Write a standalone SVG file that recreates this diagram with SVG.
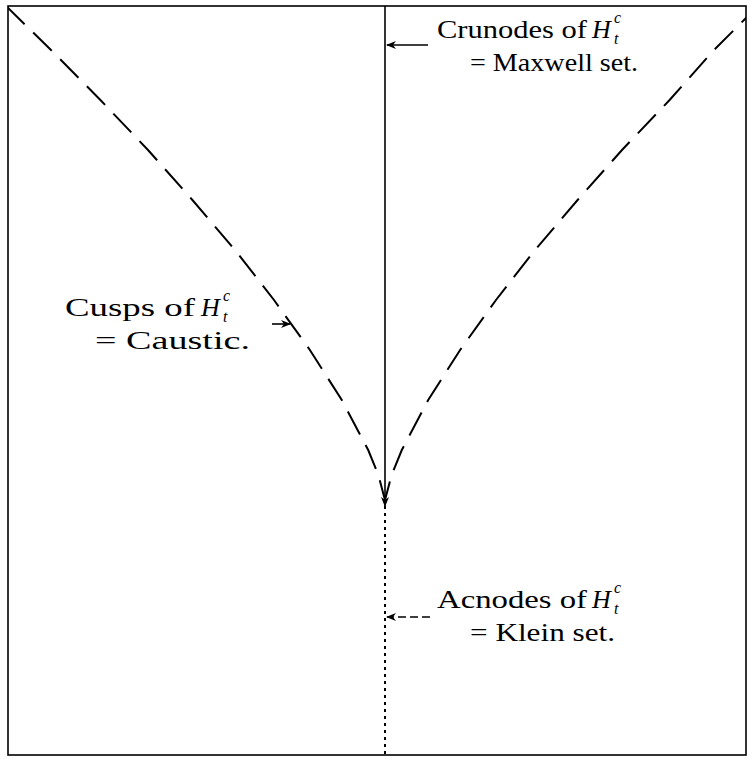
<svg xmlns="http://www.w3.org/2000/svg" width="754" height="763" viewBox="0 0 754 763">
<style>
.t{font-family:"Liberation Serif","Times New Roman",serif;font-size:26px;fill:#000}
.i{font-style:italic}
.s{font-family:"Liberation Serif","Times New Roman",serif;font-size:16px;font-style:italic;fill:#000}
.curve{fill:none;stroke:#000;stroke-width:2;stroke-dasharray:26 12}
.ln{fill:none;stroke:#000;stroke-width:1.6}
</style>
<defs>
<marker id="ah" viewBox="0 0 10 8" refX="9" refY="4" markerWidth="10" markerHeight="8" markerUnits="userSpaceOnUse" orient="auto">
<path d="M0,0 L10,4 L0,8 L3,4 Z" fill="#000"/>
</marker>
<clipPath id="fr"><rect x="8" y="6" width="738" height="749"/></clipPath>
</defs>
<rect x="8" y="6" width="738" height="749" fill="#fff" stroke="#000" stroke-width="1.6"/>
<g id="connectors">
<g clip-path="url(#fr)">
<path id="caustic-left" class="curve" d="M6,6 L51,50 L100.4,100 L148,150 L192.4,200 L235,250 L274,300 L309.9,350 L341.8,400 L368.2,450 L378.4,475 L385,500"/>
<path id="caustic-right" class="curve" d="M760,4 L714,50 L669.6,100 L622,150 L577.6,200 L535,250 L496,300 L460.1,350 L428.2,400 L401.8,450 L391.6,475 L385,500"/>
</g>
<line id="maxwell" class="ln" x1="385" y1="6" x2="385" y2="506" marker-end="url(#ah)"/>
<line id="klein" x1="385" y1="506" x2="385" y2="755" stroke="#000" stroke-width="2" stroke-dasharray="3 4"/>
<line class="ln" x1="428" y1="45" x2="387" y2="45" marker-end="url(#ah)"/>
<line class="ln" x1="272" y1="324" x2="290" y2="324" marker-end="url(#ah)"/>
<line class="ln" x1="430" y1="617" x2="387" y2="617" stroke-dasharray="8 4" marker-end="url(#ah)"/>
</g>
<g id="label-crunodes">
<text class="t" x="437" y="38" textLength="150" lengthAdjust="spacingAndGlyphs">Crunodes of</text>
<text class="t i" x="592" y="38">H</text>
<text class="s" x="614" y="44">t</text>
<text class="s" x="614" y="23">c</text>
<text class="t" x="470" y="71" textLength="168" lengthAdjust="spacingAndGlyphs">= Maxwell set.</text>
</g>
<g id="label-cusps">
<text class="t" x="65" y="316" textLength="130" lengthAdjust="spacingAndGlyphs">Cusps of</text>
<text class="t i" x="201" y="316">H</text>
<text class="s" x="223" y="322">t</text>
<text class="s" x="223" y="301">c</text>
<text class="t" x="95" y="349" textLength="155" lengthAdjust="spacingAndGlyphs">= Caustic.</text>
</g>
<g id="label-acnodes">
<text class="t" x="437" y="608" textLength="150" lengthAdjust="spacingAndGlyphs">Acnodes of</text>
<text class="t i" x="592" y="608">H</text>
<text class="s" x="614" y="614">t</text>
<text class="s" x="614" y="593">c</text>
<text class="t" x="470" y="641" textLength="145" lengthAdjust="spacingAndGlyphs">= Klein set.</text>
</g>
</svg>
